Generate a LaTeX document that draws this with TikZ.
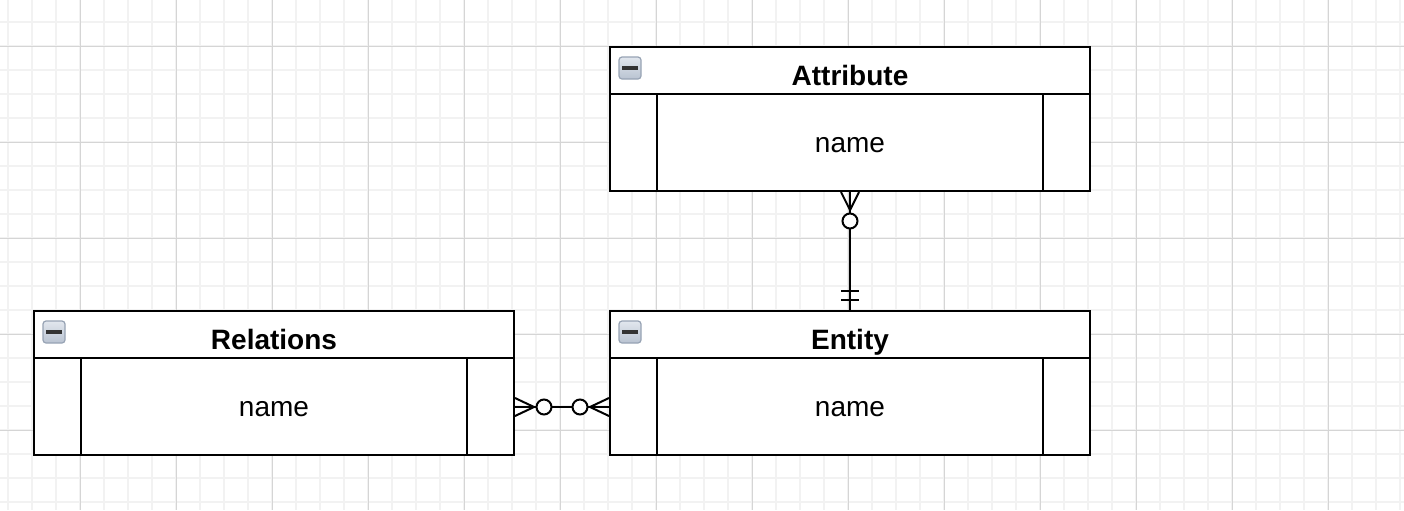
\documentclass[tikz,border=0pt]{standalone}
\usepackage{fontspec}
\setmainfont{Liberation Sans}
\usetikzlibrary{positioning}

\definecolor{minorgrid}{HTML}{F2F2F2}
\definecolor{majorgrid}{HTML}{D5D5D5}
\definecolor{icontop}{HTML}{E2E7EE}
\definecolor{iconbot}{HTML}{B9C3D1}
\definecolor{iconrim}{HTML}{97A3B4}

\tikzset{
    tbl/.style={shape=rectangle,draw=black,line width=1pt,minimum width=240pt,minimum height=72pt,inner sep=0pt},
    div/.style={draw=black,line width=1pt},
    title/.style={anchor=base,font=\fontsize{14}{16}\selectfont\bfseries},
    field/.style={anchor=base,font=\fontsize{14}{16}\selectfont},
    icon/.style={shape=rectangle,rounded corners=1.5pt,draw=iconrim,line width=0.6pt,
        top color=icontop,bottom color=iconbot,minimum size=11pt,inner sep=0pt,
        path picture={\draw[line width=1.6pt,draw=black!80]
            ([xshift=-4pt]path picture bounding box.center) -- ([xshift=4pt]path picture bounding box.center);}},
    conn/.style={draw=black,line width=1pt}
}

\begin{document}
\begin{tikzpicture}[x=0.5pt,y=-0.5pt]
    \fill[white] (0,0) rectangle (1404,510);
    \useasboundingbox (0,0) rectangle (1404,510);
    % grid
    \foreach \gx in {8,32,...,1400} \draw[minorgrid,line width=1pt] (\gx,0) -- (\gx,510);
    \foreach \gy in {22,46,...,510} \draw[minorgrid,line width=1pt] (0,\gy) -- (1404,\gy);
    \foreach \gx in {80,176,...,1400} \draw[majorgrid,line width=0.5pt] (\gx,0) -- (\gx,510);
    \foreach \gy in {46,142,...,510} \draw[majorgrid,line width=0.5pt] (0,\gy) -- (1404,\gy);

    % tables
    \node[tbl,fill=white] (attr) at (850,119) {};
    \node[tbl,fill=white] (ent) at (850,383) {};
    \node[tbl,fill=white] (rel) at (274,383) {};

    \draw[div] ([yshift=-24pt]attr.north west) -- ([yshift=-24pt]attr.north east);
    \draw[div] ([xshift=24pt,yshift=-24pt]attr.north west) -- ([xshift=24pt]attr.south west);
    \draw[div] ([xshift=-24pt,yshift=-24pt]attr.north east) -- ([xshift=-24pt]attr.south east);
    \draw[div] ([yshift=-24pt]ent.north west) -- ([yshift=-24pt]ent.north east);
    \draw[div] ([xshift=24pt,yshift=-24pt]ent.north west) -- ([xshift=24pt]ent.south west);
    \draw[div] ([xshift=-24pt,yshift=-24pt]ent.north east) -- ([xshift=-24pt]ent.south east);
    \draw[div] ([yshift=-24pt]rel.north west) -- ([yshift=-24pt]rel.north east);
    \draw[div] ([xshift=24pt,yshift=-24pt]rel.north west) -- ([xshift=24pt]rel.south west);
    \draw[div] ([xshift=-24pt,yshift=-24pt]rel.north east) -- ([xshift=-24pt]rel.south east);

    \node[icon] (attrI) at ([xshift=10.5pt,yshift=-11pt]attr.north west) {};
    \node[icon] (entI) at ([xshift=10.5pt,yshift=-11pt]ent.north west) {};
    \node[icon] (relI) at ([xshift=10.5pt,yshift=-11pt]rel.north west) {};

    \node[title] (attrT) at ([yshift=-19.5pt]attr.north) {Attribute};
    \node[title] (entT) at ([yshift=-19.5pt]ent.north) {Entity};
    \node[title] (relT) at ([yshift=-19.5pt]rel.north) {Relations};
    \node[field] (attrN) at ([yshift=-53pt]attr.north) {name};
    \node[field] (entN) at ([yshift=-53pt]ent.north) {name};
    \node[field] (relN) at ([yshift=-53pt]rel.north) {name};

    % Attribute -- Entity
    \draw[conn] (attr.south) -- (ent.north);
    \draw[conn] ([xshift=-4.5pt]attr.south) -- ([yshift=-9pt]attr.south) -- ([xshift=4.5pt]attr.south);
    \draw[conn] (attr.south) -- ([yshift=-9pt]attr.south);
    \draw[conn,fill=white] ([yshift=-14.5pt]attr.south) circle (3.75pt);
    \draw[conn] ([xshift=-4.5pt,yshift=5pt]ent.north) -- ([xshift=4.5pt,yshift=5pt]ent.north);
    \draw[conn] ([xshift=-4.5pt,yshift=9.5pt]ent.north) -- ([xshift=4.5pt,yshift=9.5pt]ent.north);

    % Relations -- Entity
    \coordinate (relP) at ([yshift=-12pt]rel.east);
    \coordinate (entP) at ([yshift=-12pt]ent.west);
    \draw[conn] (relP) -- (entP);
    \draw[conn] ([yshift=4.5pt]relP) -- ([xshift=9.5pt]relP) -- ([yshift=-4.5pt]relP);
    \draw[conn,fill=white] ([xshift=14.5pt]relP) circle (3.75pt);
    \draw[conn] ([yshift=4.5pt]entP) -- ([xshift=-9.5pt]entP) -- ([yshift=-4.5pt]entP);
    \draw[conn,fill=white] ([xshift=-14.5pt]entP) circle (3.75pt);
\end{tikzpicture}
\end{document}
